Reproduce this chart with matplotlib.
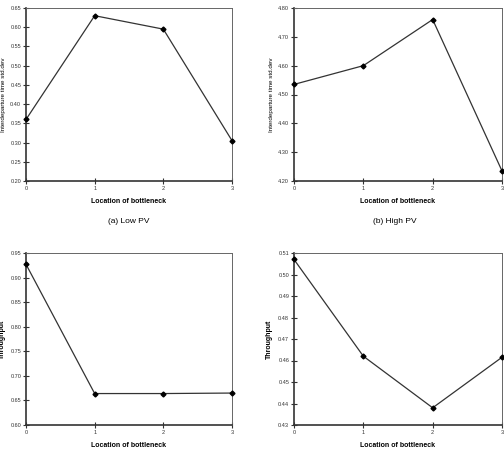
import matplotlib
matplotlib.use('Agg')
import matplotlib.pyplot as plt

plt.rcParams['font.family'] = ['Liberation Sans', 'DejaVu Sans']

# Data
x = [0, 1, 2, 3]
low_pv_std = [0.36, 0.63, 0.595, 0.305]
high_pv_std = [4.535, 4.60, 4.76, 4.235]
low_pv_thr = [0.927, 0.664, 0.664, 0.665]
high_pv_thr = [0.507, 0.462, 0.438, 0.4615]

ticks_a = [0.20, 0.25, 0.30, 0.35, 0.40, 0.45, 0.50, 0.55, 0.60, 0.65]
ticks_b = [4.20, 4.30, 4.40, 4.50, 4.60, 4.70, 4.80]
ticks_c = [0.60, 0.65, 0.70, 0.75, 0.80, 0.85, 0.90, 0.95]
ticks_d = [0.43, 0.44, 0.45, 0.46, 0.47, 0.48, 0.49, 0.50, 0.51]

fig = plt.figure(figsize=(5.04, 4.63), dpi=100)
W, H = 504.0, 463.0


def make_ax(l, r, t, b):
    return fig.add_axes([l / W, 1 - b / H, (r - l) / W, (b - t) / H])


def style(ax, yticks):
    ax.set_xlim(0, 3)
    ax.set_ylim(yticks[0], yticks[-1])
    ax.set_xticks(x)
    ax.set_yticks(yticks)
    ax.set_yticklabels(['%.2f' % v for v in yticks])
    ax.tick_params(direction='inout', length=4, width=0.8, labelsize=4,
                   colors='#333333', pad=1.5)
    for s in ['left', 'bottom']:
        ax.spines[s].set_linewidth(1.2)
        ax.spines[s].set_color('#333333')
    for s in ['top', 'right']:
        ax.spines[s].set_linewidth(0.7)
        ax.spines[s].set_color('#666666')
    ax.set_xlabel('Location of bottleneck', fontsize=5, fontweight='bold',
                  labelpad=5)


def draw(ax, y):
    ax.plot(x, y, color='#333333', lw=0.9, marker='D', ms=2.5,
            mfc='black', mec='black', clip_on=False, zorder=5)


ax1 = make_ax(26, 232, 8, 181)
draw(ax1, low_pv_std)
style(ax1, ticks_a)
ax1.set_ylabel('Interdeparture time std.dev', fontsize=4.5)
ax1.yaxis.set_label_coords(-0.098, 0.5)
fig.text(129 / W, 1 - 222 / H, '(a) Low PV', fontsize=6, ha='center',
         va='center')

ax2 = make_ax(294, 502, 8, 181)
draw(ax2, high_pv_std)
style(ax2, ticks_b)
ax2.set_ylabel('Interdeparture time std.dev', fontsize=4.5)
ax2.yaxis.set_label_coords(-0.097, 0.5)
fig.text(395 / W, 1 - 222 / H, '(b) High PV', fontsize=6, ha='center',
         va='center')

ax3 = make_ax(26, 232, 253, 425)
draw(ax3, low_pv_thr)
style(ax3, ticks_c)
ax3.set_ylabel('Throughput', fontsize=5, fontweight='bold')
ax3.yaxis.set_label_coords(-0.095, 0.5)

ax4 = make_ax(294, 502, 253, 425)
draw(ax4, high_pv_thr)
style(ax4, ticks_d)
ax4.set_ylabel('Throughput', fontsize=5, fontweight='bold')
ax4.yaxis.set_label_coords(-0.1, 0.5)

fig.savefig('out.png', dpi=100)
